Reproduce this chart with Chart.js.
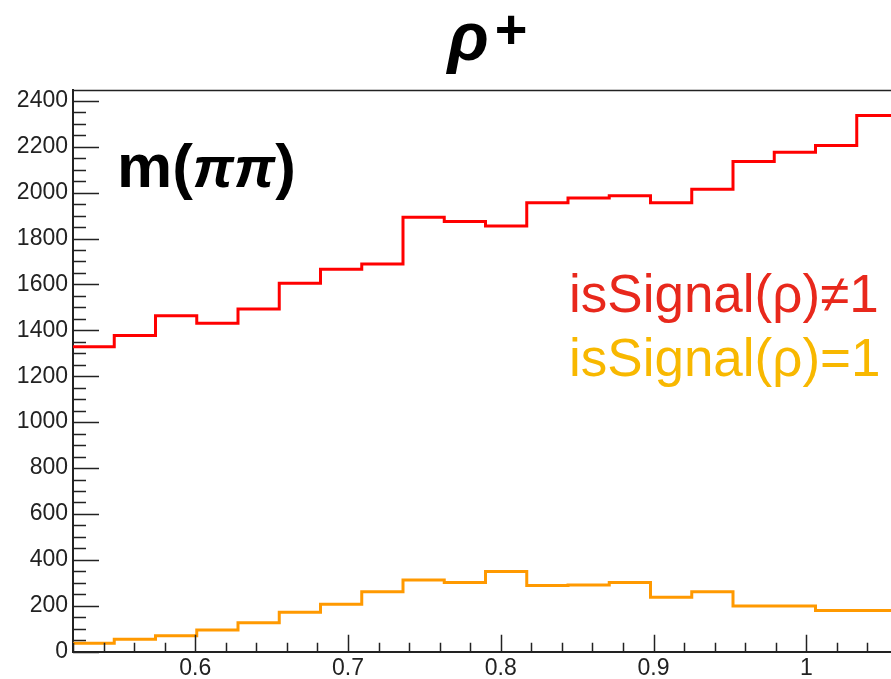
<!DOCTYPE html>
<html>
<head>
<meta charset="utf-8">
<script src="https://cdn.jsdelivr.net/npm/chart.js@4/dist/chart.umd.min.js"></script>
<style>
  html, body { margin: 0; padding: 0; background: #fff; overflow: hidden; }
  #wrap { width: 900px; height: 679px; }
</style>
</head>
<body>
<div id="wrap"><canvas id="hist" width="900" height="679"></canvas></div>
<script>
// bin edges of m(pi pi) histogram (20 bins)
const binEdges = [0.520, 0.547, 0.574, 0.601, 0.628, 0.655, 0.682, 0.709, 0.736, 0.763,
                  0.790, 0.817, 0.844, 0.871, 0.898, 0.925, 0.952, 0.979, 1.006, 1.033, 1.060];

// isSignal(rho) != 1
const bkgCounts = [1329, 1377, 1463, 1431, 1493, 1605, 1666, 1689, 1893, 1874,
                   1855, 1956, 1976, 1986, 1956, 2015, 2135, 2176, 2205, 2336];

// isSignal(rho) == 1
const sigCounts = [37, 54, 70, 95, 126, 172, 207, 261, 312, 301,
                   349, 288, 291, 301, 237, 261, 199, 199, 179, 179];

const yTickLabels = [0, 200, 400, 600, 800, 1000, 1200, 1400, 1600, 1800, 2000, 2200, 2400];
const xTickLabels = [0.6, 0.7, 0.8, 0.9, 1];

const xMin = 0.52, xMax = 1.06;
const yMax = 2447;

function histPoints(counts) {
  // one point per left edge, plus closing point at the last edge
  return binEdges.map((x, i) => ({ x: x, y: counts[Math.min(i, counts.length - 1)] }));
}

// ROOT style inner tick marks, frame and text
const rootFrame = {
  id: "rootFrame",
  afterDraw(chart) {
    const ctx = chart.ctx;
    const area = chart.chartArea;
    const xs = chart.scales.x, ys = chart.scales.y;
    ctx.save();
    ctx.strokeStyle = "#222";
    ctx.lineWidth = 1.5;

    // top frame line
    ctx.beginPath();
    ctx.moveTo(area.left, area.top + 0.5);
    ctx.lineTo(area.right, area.top + 0.5);
    ctx.stroke();

    ctx.beginPath();
    // y ticks
    for (let v = 0; v <= yMax; v += 50) {
      const py = Math.round(ys.getPixelForValue(v)) + 0.5;
      const major = v % 200 === 0;
      ctx.moveTo(area.left, py);
      ctx.lineTo(area.left + (major ? 26 : 13), py);
    }
    // x ticks
    for (let k = 0; k <= 27; k++) {
      const v = xMin + k * 0.02;
      const px = Math.round(xs.getPixelForValue(v)) + 0.5;
      const major = Math.abs(v * 10 - Math.round(v * 10)) < 1e-6;
      ctx.moveTo(px, area.bottom);
      ctx.lineTo(px, area.bottom - (major ? 17 : 9));
    }
    ctx.stroke();

    // title rho+
    const cx = (area.left + area.right) / 2;
    ctx.fillStyle = "#000";
    ctx.textBaseline = "alphabetic";
    ctx.font = "italic bold 68px 'Liberation Sans'";
    const rhoW = ctx.measureText("ρ").width;
    ctx.font = "bold 56px 'Liberation Sans'";
    const plusW = ctx.measureText("+").width;
    const startX = cx - (rhoW + plusW) / 2;
    ctx.font = "italic bold 68px 'Liberation Sans'";
    ctx.fillText("ρ", startX - 1, 60);
    ctx.font = "bold 56px 'Liberation Sans'";
    ctx.fillText("+", startX + rhoW + 5, 48);

    // m(pi pi) label
    let lx = 117;
    const ly = 187;
    ctx.font = "bold 62px 'Liberation Sans'";
    ctx.fillText("m(", lx, ly);
    lx += ctx.measureText("m(").width;
    ctx.font = "italic bold 58px 'Liberation Sans'";
    ctx.fillText("ππ", lx, ly);
    lx += ctx.measureText("ππ").width;
    ctx.font = "bold 62px 'Liberation Sans'";
    ctx.fillText(")", lx, ly);

    // legend text
    ctx.font = "53px 'Liberation Sans'";
    ctx.fillStyle = "#e8281c";
    ctx.fillText("isSignal(ρ)≠1", 569, 312);
    ctx.fillStyle = "#f8b800";
    ctx.fillText("isSignal(ρ)=1", 569, 376);
    ctx.restore();
  }
};

new Chart(document.getElementById("hist"), {
  type: "line",
  data: {
    datasets: [
      {
        label: "isSignal(ρ)≠1",
        data: histPoints(bkgCounts),
        borderColor: "#ff0000",
        borderWidth: 3,
        stepped: "before",
        pointRadius: 0,
        fill: false
      },
      {
        label: "isSignal(ρ)=1",
        data: histPoints(sigCounts),
        borderColor: "#ff9900",
        borderWidth: 3,
        stepped: "before",
        pointRadius: 0,
        fill: false
      }
    ]
  },
  options: {
    responsive: false,
    animation: false,
    layout: { padding: { top: 90, right: 2, left: 0, bottom: 0 } },
    plugins: {
      legend: { display: false },
      tooltip: { enabled: false },
      title: { display: false }
    },
    scales: {
      x: {
        type: "linear",
        min: xMin,
        max: xMax,
        grid: { display: false, drawTicks: false, tickLength: 0 },
        border: { display: true, color: "#222", width: 2 },
        afterFit(scale) { scale.height = 27.3; },
        afterBuildTicks(scale) { scale.ticks = xTickLabels.map(v => ({ value: v })); },
        ticks: {
          padding: 3,
          color: "#222",
          font: { family: "Liberation Sans", size: 23 },
          maxRotation: 0,
          callback: v => String(Number(v.toFixed(2)))
        }
      },
      y: {
        type: "linear",
        min: 0,
        max: yMax,
        grid: { display: false, drawTicks: false, tickLength: 0 },
        border: { display: true, color: "#222", width: 2 },
        afterFit(scale) { scale.width = 73; },
        afterBuildTicks(scale) { scale.ticks = yTickLabels.map(v => ({ value: v })); },
        ticks: {
          padding: 5,
          color: "#222",
          font: { family: "Liberation Sans", size: 23 },
          callback: v => String(v)
        }
      }
    }
  },
  plugins: [rootFrame]
});
</script>
</body>
</html>
